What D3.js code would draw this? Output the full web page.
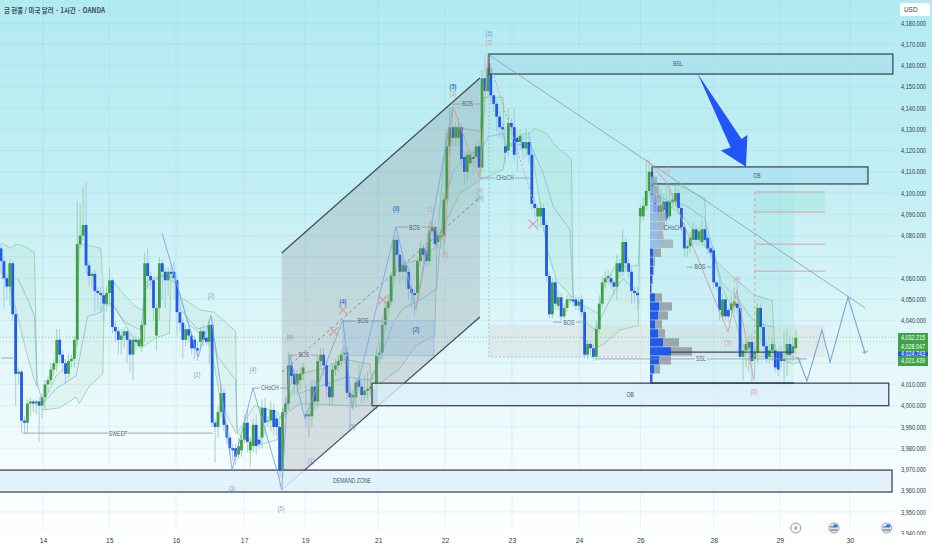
<!DOCTYPE html>
<html>
<head>
<meta charset="utf-8">
<style>
  html, body { margin: 0; padding: 0; background: #fff; }
  svg { display: block; }
  text { font-family: "Liberation Sans", Roboto, sans-serif; }
</style>
<script src="https://cdnjs.cloudflare.com/ajax/libs/d3/7.8.5/d3.min.js"></script>
</head>
<body>
<svg id="chart" width="932" height="550"></svg>
<script>
// candles, one hour each
var opens = [
  4074,4068,4060,4056,4067,4043,4015,4016,3993,3992, 4001,4002,4001,4002,4000,4004,4010,4012,4017,4020,
  4031,4024,4020,4015,4021,4022,4031,4076,4080,4085, 4066,4061,4062,4054,4053,4052,4048,4053,4059,4037,
  4035,4031,4033,4035,4031,4024,4031,4028,4028,4038, 4067,4061,4059,4033,4046,4067,4063,4059,4063,4063,
  4059,4044,4039,4031,4036,4033,4031,4027,4030,4035, 4032,4030,4038,3992,3990,3997,4006,3991,3985,3980,
  3980,3977,3979,3984,3992,3979,3981,3991,3984,3985, 3999,3993,3993,3998,3994,3990,3966,3997,4001,4019,
  4015,4010,4012,4015,3996,3995,3995,4009,4002,4021, 4024,4019,4009,4004,4017,4019,4021,4024,4025,4006,
  4004,4004,4012,4009,4005,4007,4008,4008,4000,4024, 4025,4038,4046,4049,4061,4078,4071,4063,4066,4063,
  4055,4053,4053,4068,4074,4073,4068,4082,4084,4077, 4079,4080,4097,4122,4131,4126,4126,4131,4117,4110,
  4114,4117,4117,4122,4112,4154,4148,4159,4146,4142, 4136,4131,4122,4120,4133,4131,4126,4124,4124,4121,
  4124,4118,4095,4089,4089,4093,4085,4061,4043,4058, 4047,4051,4042,4046,4050,4050,4050,4047,4050,4044,
  4024,4029,4027,4023,4036,4048,4058,4060,4060,4058, 4056,4067,4063,4077,4067,4063,4054,4053,4089,4089,
  4094,4101,4110,4099,4094,4091,4092,4096,4089,4096, 4096,4100,4093,4084,4074,4075,4078,4083,4078,4077,
  4083,4079,4074,4073,4058,4056,4042,4050,4045,4045, 4047,4048,4046,4023,4026,4027,4030,4022,4025,4046,
  4037,4028,4023,4026,4026,4025,4025,4021,4024,4029, 4025,4027
];
var closes = [
  4068,4060,4056,4067,4043,4015,4016,3993,3992,4001, 4002,4001,4002,4000,4004,4010,4012,4017,4020,4031,
  4024,4020,4015,4021,4022,4031,4076,4080,4085,4066, 4061,4062,4054,4053,4052,4048,4053,4059,4037,4035,
  4031,4033,4035,4031,4024,4031,4030,4031,4038,4067, 4061,4059,4046,4046,4067,4063,4059,4063,4062,4060,
  4044,4039,4031,4036,4033,4027,4027,4026,4035,4031, 4030,4038,3992,3990,3997,4006,3991,3985,3980,3979,
  3976,3981,3984,3992,3983,3983,3991,3981,3982,3999, 3992,3993,3998,3990,3990,3966,3997,4001,4019,4014,
  4010,4015,4015,4018,3995,3996,4009,4002,4021,4024, 4019,4009,4004,4017,4019,4021,4024,4025,4006,4004,
  4005,4011,4009,4005,4007,4008,4009,4000,4024,4025, 4038,4046,4049,4061,4078,4071,4063,4066,4063,4055,
  4053,4052,4068,4074,4071,4068,4082,4084,4076,4080, 4080,4097,4122,4131,4126,4131,4131,4116,4110,4118,
  4118,4116,4122,4112,4154,4148,4159,4146,4142,4136, 4131,4130,4119,4133,4131,4118,4124,4127,4121,4124,
  4118,4095,4093,4093,4093,4085,4061,4043,4058,4048, 4051,4042,4046,4050,4050,4049,4047,4049,4044,4024,
  4029,4027,4023,4036,4048,4058,4060,4061,4058,4056, 4067,4063,4077,4067,4063,4054,4053,4052,4093,4094,
  4101,4110,4099,4091,4091,4094,4096,4088,4096,4097, 4100,4093,4084,4074,4075,4079,4083,4078,4082,4083,
  4078,4074,4072,4058,4056,4045,4050,4042,4042,4048, 4049,4046,4023,4026,4029,4030,4021,4025,4046,4037,
  4028,4022,4026,4029,4018,4017,4021,4022,4029,4024, 4028,4032
];
var highs = [
  4076,4070,4062,4069,4068,4047,4018,4017,3995,4003, 4004,4003,4003,4004,4006,4012,4014,4020,4022,4036,
  4036,4026,4022,4024,4024,4033,4096,4095,4103,4105, 4068,4063,4064,4056,4056,4054,4056,4065,4060,4040,
  4037,4036,4037,4036,4034,4033,4033,4032,4040,4072, 4074,4063,4061,4048,4070,4069,4065,4065,4066,4068,
  4062,4046,4041,4038,4040,4035,4033,4030,4037,4038, 4034,4040,4041,3994,4000,4010,4008,3993,3987,3982,
  3982,3985,3986,3996,3998,3985,3994,3996,3986,4003, 4004,3995,4002,4001,3996,3992,3999,4004,4025,4024,
  4017,4017,4018,4020,4010,3999,4012,4012,4024,4027, 4027,4021,4011,4020,4022,4024,4026,4028,4028,4009,
  4008,4013,4020,4012,4014,4016,4012,4011,4027,4030, 4042,4049,4052,4063,4080,4080,4073,4069,4068,4065,
  4057,4055,4070,4077,4076,4075,4085,4088,4087,4082, 4083,4100,4128,4140,4133,4133,4136,4133,4120,4120,
  4120,4120,4124,4126,4158,4165,4166,4161,4148,4144, 4138,4133,4131,4140,4135,4140,4129,4130,4128,4131,
  4129,4120,4098,4094,4096,4095,4087,4063,4060,4060, 4054,4053,4048,4052,4052,4051,4052,4051,4052,4046,
  4031,4031,4029,4040,4052,4061,4063,4064,4062,4059, 4071,4069,4083,4079,4069,4065,4056,4056,4095,4098,
  4115,4116,4112,4101,4100,4102,4100,4104,4102,4100, 4103,4102,4095,4086,4078,4082,4086,4085,4084,4087,
  4085,4081,4075,4075,4059,4058,4053,4052,4047,4052, 4056,4058,4048,4029,4031,4033,4034,4028,4048,4048,
  4039,4030,4029,4032,4029,4027,4028,4035,4036,4033, 4032,4036
];
var lows = [
  4062,4046,4050,4047,4040,4000,4010,3987,3987,3987, 3995,3997,3996,3983,3994,3998,4006,4010,4014,4016,
  4020,4016,4010,4013,4018,4018,4028,4074,4078,4062, 4056,4055,4044,4045,4044,4040,4044,4048,4034,4030,
  4024,4024,4027,4020,4016,4012,4026,4027,4025,4030, 4055,4055,4040,4026,4040,4050,4046,4052,4058,4050,
  4033,4035,4022,4028,4030,4024,4022,4021,4026,4028, 4028,4020,3990,3973,3985,3994,3988,3982,3977,3974,
  3972,3975,3976,3982,3978,3971,3978,3977,3980,3980, 3986,3990,3988,3986,3986,3961,3961,3994,3998,4010,
  4005,4005,4008,4012,3990,3985,3990,3998,3999,4018, 4014,4004,4000,4000,4014,4016,4018,4020,4003,3990,
  3998,3999,4006,4001,4002,4003,4005,3998,3998,4022, 4022,4036,4044,4047,4059,4067,4057,4059,4056,4050,
  4046,4042,4048,4066,4068,4065,4066,4080,4073,4074, 4074,4071,4095,4118,4122,4122,4122,4112,4104,4106,
  4112,4108,4114,4108,4110,4144,4145,4142,4138,4129, 4126,4125,4114,4117,4125,4115,4110,4120,4116,4117,
  4114,4092,4088,4082,4084,4082,4058,4041,4041,4045, 4045,4040,4041,4044,4048,4047,4045,4045,4042,4022,
  4022,4024,4021,4022,4034,4046,4055,4057,4055,4052, 4050,4060,4061,4063,4060,4048,4048,4045,4086,4087,
  4092,4098,4096,4085,4088,4087,4088,4085,4087,4093, 4094,4090,4082,4070,4070,4072,4076,4075,4075,4075,
  4075,4071,4069,4055,4054,4040,4040,4040,4039,4043, 4044,4043,4022,4012,4018,4016,4010,4013,4020,4030,
  4023,4020,4020,4021,4016,4014,4018,4008,4014,4020, 4021,4024
];

// axis labels
var priceTicks = [4180,4170,4160,4150,4140,4130,4120,4110,4100,4090,4080,4060,4050,4040,4010,4000,3990,3980,3970,3960,3950,3940];
var gridPrices = [4180,4170,4160,4150,4140,4130,4120,4110,4100,4090,4080,4070,4060,4050,4040,4030,4020,4010,4000,3990,3980,3970,3960,3950];
var dayTicks = [14.3,36.9,59.7,82.9,103.7,128.6,151.4,174.2,197.1,218,243,265.5,289.5];
var dayLabels = ["14","15","16","17","19","21","22","23","24","26","28","29","30"];

// envelope pieces, [candle index, price]
var bandUppers = [
  [[0,4076.6],[3.4,4074],[5.1,4076],[8,4075],[11.4,4072],[12.3,4009]],
  [[14.2,4001],[18.8,4014],[25.6,4024],[26.7,4075.5],[28.4,4076],[34,4074],[35.2,4048]],
  [[35.2,4048],[38,4059],[40.3,4055],[45.5,4047],[48.3,4045],[49.4,4058],[54.5,4061.4],[59.1,4060],[61.4,4051],[68,4045],[72.7,4044],[80,4035],[80.5,3987]],
  [[80.5,3987],[86.4,4000],[94.3,3997],[95.1,3994],[101.9,4015],[109.9,4017.5],[116.7,4022],[125.8,4019.6],[126.4,4012],[129.2,4024.6],[133.2,4051],[134.9,4066],[142.3,4068.5],[148.5,4075],[151.9,4129.7],[155.3,4131],[163.3,4129],[164.4,4145],[171.2,4145],[171.8,4117]],
  [[172.4,4122],[178,4127.8],[180.3,4128],[182,4130.4],[186,4128],[189.4,4122],[194.5,4116],[195.1,4050.5]],
  [[197.4,4048],[203.6,4043.5],[205.4,4056],[209,4065],[217.3,4066],[217.9,4090]],
  [[221.8,4105.4],[226.9,4103.8],[231.5,4103.4],[240,4097.6],[240.6,4074],[244,4067.8],[250.8,4059],[257,4052],[263,4049.4],[263.9,4023]],
  [[264,4023],[268,4024],[273,4022]]
];
var bandLowers = [
  [[0,4060],[2.3,4059],[5.7,4042],[8.5,4026],[11.4,4012],[12.3,4009]],
  [[14.2,3998],[19.9,3999],[25.6,4004],[26.7,4001],[30,4009],[34.7,4015],[35.2,4048]],
  [[35.2,4048],[38.6,4046.5],[42,4039],[45.5,4031],[47.7,4027],[52.8,4032],[57.4,4034],[58,4059],[59.7,4057.5],[63.6,4038.7],[67,4034.8],[71.6,4027.7],[75,4001],[80.1,3987]],
  [[80.5,3987],[88,3981.5],[94.3,3984],[95.1,3994],[101.9,4001],[117.8,4000],[125.8,4000],[129.2,4010.5],[136,4017.5],[141.7,4028.5],[147.9,4033],[148.7,4078],[151.9,4087],[156.5,4100],[163.3,4106],[171.2,4111],[171.8,4117]],
  [[172.4,4122],[180.3,4126.5],[182.6,4106],[186,4074.8],[189.4,4059],[195.1,4050.5]],
  [[197.4,4032.5],[202.5,4027],[205.9,4029.3],[211,4035.6],[217.3,4037.7],[217.9,4090]],
  [[221.8,4105.4],[225.2,4096.8],[232.6,4089],[240.4,4074],[242.9,4073],[245.1,4057.6],[248.5,4048],[253.1,4027.8],[257.6,4023],[263.9,4023]],
  [[264,4023],[270,4019.5],[273,4021]]
];
var bandMids = [
  [[5.7,4060],[9.1,4050],[11.4,4042],[12.3,4011],[14.2,4001],[18.8,4008],[25.6,4014],[29.5,4042],[34.1,4044],[35.2,4048],[38,4048],[42,4039.5],[47.7,4035.5],[49.4,4056],[54.5,4061],[59,4061],[61.4,4045],[67,4036],[71.6,4038],[73.9,4023],[80,4012],[80.5,3988]],
  [[101.9,4005.8],[109.9,4009.7],[117.8,4013.6],[125.8,4012],[129.2,4021.5],[133.7,4038.7],[137.1,4045.8],[142.8,4049.7],[148.5,4055],[150.8,4093.6],[154.2,4110.8],[159.9,4118.7],[163.3,4119.5],[166.1,4126.5],[171.2,4128],[172.4,4122],[180.3,4123.4],[184.9,4109.3],[188.3,4093.6],[194,4082.6],[195.1,4050.5]],
  [[198.5,4040.3],[202.5,4035.6],[208.8,4052.9],[212.2,4060],[216.7,4052.9],[217.6,4048]],
  [[221.8,4100],[228.1,4096],[233.2,4094.4],[240,4088],[242.9,4073],[245.7,4057.6],[250.8,4051],[255.4,4042],[257.6,4038.8],[263.3,4037]]
];

// wave counts
var blueWave = [[54.9,4081.2],[58.6,4063.8],[67.2,4022.9],[71.6,4042.6],[78.8,3969.7],[85.9,4008.3],[94.8,3966],[95.7,3960.3],[98.5,4023.8],[103.6,3994],[116.6,4040.3],[119.7,3999],[134.7,4084],[141.5,4045],[154.1,4140.5]];
var redWave = [[141.5,4045],[146.3,4086.4],[151.4,4076.5],[154.1,4140.5],[163.3,4106.6],[166,4164]];
var redDash = [[166,4164],[181.4,4096.7]];
var redWave2 = [[220.2,4115.6],[227,4105],[247.9,4034.6],[250.9,4054.4],[256.7,4012]];
var projection = [[271.7,4022.9],[274.8,4011.6],[279.9,4035.6],[282.7,4020.5],[288.8,4051],[294.6,4024.8]];
var trendLine = [[166.4,4165],[294.6,4046]];
var channelDash = [[95.8,4015.8],[163.3,4098]];
var channel = [[95.7,4071.8],[163.3,4154.1],[163.3,4041.7],[95.7,3960.3]];
var arrowShape = [[237.6,4156],[252.5,4125.4],[254.5,4127.3],[254,4112.4],[245.4,4120],[248.8,4121.5]];

// zones: [from, to, top, bottom]
var bslZone = [166.4,304.1,4165.4,4156];
var obTop = [222,295.6,4112.3,4104.3];
var obBottom = [126.5,302.7,4010.6,4000];
var demandZone = [-2,303.8,3969.7,3959.4];
var grayZone = [166.4,281,4037.8,4022.9];
var channelBox = [116.6,147.6,4040,4023.6];
var profileRange = [222,270.4,4110,4009.7];
var targetTop = [257,281,4100.5,4091.1];
var targetBody = [257,270.4,4091.1,4022.9];
var targetLevels = [4100.5,4091.1,4076,4063.3];

// level lines with a label: [from, to, price, text]
var levelLines = [
  [98.5,108,4023.8,"BOS"],[116.6,130.2,4039.8,"BOS"],[134.7,147.3,4084,"BOS"],[154.1,164,4141.9,"BOS"],
  [163.3,180.4,4107.1,"CHoCH"],[188.2,199.1,4039.3,"BOS"],[7.5,72.3,3987.1,"SWEEP"],[85.9,97.5,4008.3,"CHoCH"],
  [233.9,242.8,4065.2,"BOS"],[225.7,232.5,4084,"CHoCH"],[202.5,274.8,4022,"SSL"]
];

// wave labels: [index, price, text]
var blueLabels = [
  [166.4,4174.8,"(5)"],[163.3,4097.7,"(A)"],[98.5,4032.3,"(a)"],[71.6,4051.6,"(2)"],[66.8,4014.4,"(1)"],
  [85.9,4017.2,"(4)"],[78.8,3960.8,"(3)"],[95.5,3951.4,"(5)"],[105.7,3974.4,"(1)"],[119.7,3990,"(3)"]
];
var blueBoldLabels = [[154.1,4149.9,"(5)"],[134.7,4092.5,"(3)"],[116.6,4048.8,"(4)"],[141.5,4035.6,"(2)"]];
var redLabels = [
  [166.4,4170.6,"(3)"],[154.1,4146.6,"(3)"],[163.3,4101.4,"(4)"],[146.6,4092,"(1)"],[151.4,4071.3,"(2)"],
  [227.1,4110.9,"(2)"],[223.3,4097.7,"(1)"],[225,4079.3,"(1)"],[251,4060,"(4)"],[247.9,4029.5,"(3)"],[256.7,4006.4,"(5)"]
];
var crossMarks = [[116.6,4045],[113.5,4035],[130.2,4049.7],[181.4,4085.4]];
var boxLabels = [[230.8,4160.7,"BSL"],[257.8,4108,"OB"],[214.5,4005.3,"OB"],[119.7,3964.6,"DEMAND ZONE"]];

// volume profile rows
var profileTop = 4107.7;
var profileStep = 4.22;
var profileUp = [3,4,7,8,7,7,9,10,3,3,3,2,1,5,9,8,5,8,13,21,9,4,2];
var profileDown = [4,5,4,6,10,8,4,13,8,2,1,1,1,7,13,10,7,7,16,21,12,6,1];

// last price tags
var priceTags = [[4032.215,"#3fa34a",10],[4028.047,"#3fa34a",10],[4024.743,"#2156ee",4.5],[4021.439,"#3fa34a",10]];
var tagOrder = [338,347,354,361];
var eventMarks = [[271,"flash"],[284,"flag"],[302,"flag"]];

var GREEN = "#3f9f45", BLUE = "#1f5ae8", DARK = "#3d4a5e";

var width = 932, height = 550;
var svg = d3.select("#chart");
var x = d3.scaleLinear().domain([0, 271]).range([1, 795.8]);
var y = d3.scaleLinear().domain([3950, 4180]).range([512, 23]);
var vol = d3.scaleLinear().domain([0, 60]).range([0, 60]);
var line = d3.line().x(function (d) { return x(d[0]); }).y(function (d) { return y(d[1]); });

// squeeze a label to the narrow look of the reference
function narrow(sel, k) {
  sel.each(function () {
    this.setAttribute("textLength", this.getComputedTextLength() * k);
    this.setAttribute("lengthAdjust", "spacingAndGlyphs");
  });
}

var defs = svg.append("defs");
var bg = defs.append("linearGradient").attr("id", "bg").attr("x1", 0).attr("y1", 0).attr("x2", 0).attr("y2", 1);
bg.append("stop").attr("offset", "0%").attr("stop-color", "#b2eaf1");
bg.append("stop").attr("offset", "35%").attr("stop-color", "#c3eff4");
bg.append("stop").attr("offset", "65%").attr("stop-color", "#e3f7fa");
bg.append("stop").attr("offset", "92%").attr("stop-color", "#fbfeff");
bg.append("stop").attr("offset", "100%").attr("stop-color", "#ffffff");
svg.append("rect").attr("width", width).attr("height", height).attr("fill", "url(#bg)");

// grid
var grid = svg.append("g");
grid.selectAll(".h").data(gridPrices).enter().append("line")
  .attr("x1", 0).attr("x2", 895)
  .attr("y1", function (d) { return y(d); }).attr("y2", function (d) { return y(d); })
  .attr("stroke", "#7fbccb").attr("stroke-opacity", 0.16);
grid.selectAll(".v").data(dayTicks).enter().append("line")
  .attr("y1", 0).attr("y2", 530)
  .attr("x1", function (d) { return x(d); }).attr("x2", function (d) { return x(d); })
  .attr("stroke", "#7fbccb").attr("stroke-opacity", 0.16);

function zone(g, z, fill, stroke, sw) {
  return g.append("rect")
    .attr("x", x(z[0])).attr("width", x(z[1]) - x(z[0]))
    .attr("y", y(z[2])).attr("height", y(z[3]) - y(z[2]))
    .attr("fill", fill).attr("stroke", stroke || "none").attr("stroke-width", sw || 1);
}

var under = svg.append("g");
zone(under, grayZone, "#d8d8d8", null).attr("fill-opacity", 0.42);
zone(under, profileRange, "#86d6e8", null).attr("fill-opacity", 0.15);
zone(under, targetTop, "#7fe3c8", null).attr("fill-opacity", 0.22);
zone(under, targetBody, "#8de8cc", null).attr("fill-opacity", 0.1);

// dotted edge of the gray zone
under.append("path").attr("d", line([[166.4, 4165], [166.4, 4022.9], [218, 4022.9]]))
  .attr("fill", "none").attr("stroke", "#8fc3ea").attr("stroke-width", 1).attr("stroke-dasharray", "2,2");

// last price dotted line
under.append("line").attr("x1", 0).attr("x2", 897).attr("y1", y(4032.2)).attr("y2", y(4032.2))
  .attr("stroke", "#74c98a").attr("stroke-dasharray", "1,2").attr("stroke-width", 0.8);

// envelopes
var bands = svg.append("g");
bandUppers.forEach(function (up, i) {
  var low = bandLowers[i];
  bands.append("path").attr("d", line(up.concat(low.slice().reverse())) + "Z")
    .attr("fill", "#63c27c").attr("fill-opacity", 0.075);
  [up, low].forEach(function (s) {
    bands.append("path").attr("d", line(s)).attr("fill", "none")
      .attr("stroke", "#7cc48f").attr("stroke-width", 0.8).attr("stroke-opacity", 0.8);
  });
});
bandMids.forEach(function (m) {
  bands.append("path").attr("d", line(m)).attr("fill", "none")
    .attr("stroke", "#7aa9e0").attr("stroke-width", 0.8).attr("stroke-opacity", 0.8);
});

// candles
var idx = d3.range(opens.length);
var candles = svg.append("g").selectAll("g").data(idx).enter().append("g");
candles.append("line")
  .attr("x1", function (i) { return x(i); }).attr("x2", function (i) { return x(i); })
  .attr("y1", function (i) { return y(highs[i]); }).attr("y2", function (i) { return y(lows[i]); })
  .attr("stroke", function (i) { return closes[i] >= opens[i] ? "#8fc99b" : "#9dbdee"; })
  .attr("stroke-width", 0.8);
candles.append("rect")
  .attr("x", function (i) { return x(i) - 1.4; }).attr("width", 2.8)
  .attr("y", function (i) { return y(Math.max(opens[i], closes[i])); })
  .attr("height", function (i) { return Math.max(1, Math.abs(y(opens[i]) - y(closes[i]))); })
  .attr("fill", function (i) { return closes[i] >= opens[i] ? GREEN : BLUE; });

// channel sits on top of the candles
var over = svg.append("g");
over.append("path").attr("d", line(channel) + "Z").attr("fill", "#7d8288").attr("fill-opacity", 0.24);
over.append("path").attr("d", line([channel[0], channel[1]])).attr("stroke", DARK).attr("stroke-width", 1.2).attr("fill", "none");
over.append("path").attr("d", line([channel[3], channel[2]])).attr("stroke", DARK).attr("stroke-width", 1.2).attr("fill", "none");
over.append("path").attr("d", line(channelDash)).attr("stroke", "#6d7480").attr("stroke-width", 0.8)
  .attr("stroke-dasharray", "3,3").attr("fill", "none");
zone(over, channelBox, "#8fb4e0", "#9cc0e6").attr("fill-opacity", 0.26);

// zones with dark frame
zone(over, bslZone, "#a8e0ef", DARK, 1.3).attr("fill-opacity", 0.7);
zone(over, obTop, "#a8e0ef", DARK, 1.3).attr("fill-opacity", 0.6);
zone(over, obBottom, "#dceffa", DARK, 1.3).attr("fill-opacity", 0.8);
zone(over, demandZone, "#e0f1fa", DARK, 1.3).attr("fill-opacity", 0.85);

// volume profile
var rows = d3.range(profileUp.length);
var baseX = x(221.3);
var rowH = Math.abs(y(0) - y(profileStep)) - 0.6;
over.selectAll(".pu").data(rows).enter().append("rect")
  .attr("x", baseX).attr("height", rowH)
  .attr("y", function (i) { return y(profileTop - i * profileStep); })
  .attr("width", function (i) { return vol(profileUp[i]); })
  .attr("fill", function (i) { return i < 8 ? "#8db4e2" : BLUE; })
  .attr("fill-opacity", function (i) { return i < 8 ? 0.85 : 1; });
over.selectAll(".pd").data(rows).enter().append("rect")
  .attr("height", rowH)
  .attr("y", function (i) { return y(profileTop - i * profileStep); })
  .attr("x", function (i) { return baseX + vol(profileUp[i]); })
  .attr("width", function (i) { return vol(profileDown[i]); })
  .attr("fill", "#8f959e").attr("fill-opacity", function (i) { return i < 8 ? 0.6 : 0.8; });

// target levels
over.selectAll(".lvl").data(targetLevels).enter().append("line")
  .attr("x1", x(257)).attr("x2", x(281))
  .attr("y1", function (d) { return y(d); }).attr("y2", function (d) { return y(d); })
  .attr("stroke", "#dba0a4").attr("stroke-width", 1);
over.append("line").attr("x1", x(257)).attr("x2", x(257)).attr("y1", y(4100.5)).attr("y2", y(4022.9))
  .attr("stroke", "#dba0a4").attr("stroke-dasharray", "3,3");

// dark levels by the profile
over.append("line").attr("x1", x(227.4)).attr("x2", x(270.4)).attr("y1", y(4025.2)).attr("y2", y(4025.2))
  .attr("stroke", DARK).attr("stroke-width", 1.2);
over.append("line").attr("x1", x(221.3)).attr("x2", x(270.4)).attr("y1", y(4010.6)).attr("y2", y(4010.6))
  .attr("stroke", DARK).attr("stroke-width", 1.8);
over.append("line").attr("x1", x(0)).attr("x2", x(5)).attr("y1", y(4022.4)).attr("y2", y(4022.4))
  .attr("stroke", "#8e969f").attr("stroke-width", 0.8);

// wave lines
function wave(pts, color, w, dash) {
  over.append("path").attr("d", line(pts)).attr("fill", "none")
    .attr("stroke", color).attr("stroke-width", w).attr("stroke-dasharray", dash || null);
}
wave(trendLine, "#8f9aa3", 0.8);
wave(blueWave, "#7ba8dc", 0.9);
wave(redWave, "#d89a98", 0.9);
wave(redDash, "#d89a98", 1, "2,2");
wave(redWave2, "#d89a98", 0.9);
wave(projection, "#74a9dc", 1.1);

// projection arrow head
var tip = projection[projection.length - 1];
over.append("path")
  .attr("d", "M" + (x(tip[0]) - 2.6) + "," + (y(tip[1]) - 1.2) + "L" + x(tip[0]) + "," + y(tip[1]) + "L" + (x(tip[0]) + 2.4) + "," + (y(tip[1]) - 2.4))
  .attr("fill", "none").attr("stroke", "#74a9dc").attr("stroke-width", 1.1);

over.append("path").attr("d", line(arrowShape) + "Z").attr("fill", "#2255f5");

// crosses
var crossG = over.selectAll(".cross").data(crossMarks).enter().append("g")
  .attr("transform", function (d) { return "translate(" + x(d[0]) + "," + y(d[1]) + ")"; });
crossG.append("path").attr("d", "M-4.5,-4.5L4.5,4.5M-4.5,4.5L4.5,-4.5")
  .attr("stroke", "#d3a0a0").attr("stroke-width", 1.3);

// level lines, split around the label
var GAP = { "BOS": 7, "CHoCH": 10, "SWEEP": 10, "SSL": 6 };
levelLines.forEach(function (d) {
  var x0 = x(d[0]), x1 = x(d[1]), mid = (x0 + x1) / 2, yy = y(d[2]), gap = GAP[d[3]];
  if (mid - gap > x0) {
    over.append("line").attr("x1", x0).attr("x2", mid - gap).attr("y1", yy).attr("y2", yy)
      .attr("stroke", "#8e969f").attr("stroke-width", 0.8);
    over.append("line").attr("x1", mid + gap).attr("x2", x1).attr("y1", yy).attr("y2", yy)
      .attr("stroke", "#8e969f").attr("stroke-width", 0.8);
  }
  over.append("text").attr("x", mid).attr("y", yy + 2.4).attr("text-anchor", "middle")
    .attr("font-size", 6.6).attr("fill", "#555e6e").text(d[3]).call(narrow, 0.78);
});

function labels(data, color, weight, k) {
  over.selectAll(".l").data(data, function (d) { return d; }).enter().append("text")
    .attr("x", function (d) { return x(d[0]); })
    .attr("y", function (d) { return y(d[1]) + 2.4; })
    .attr("text-anchor", "middle").attr("font-size", 6.6)
    .attr("font-weight", weight || "normal").attr("fill", color)
    .text(function (d) { return d[2]; }).call(narrow, k);
}
labels(blueLabels, "#6f9fd2", null, 0.85);
labels(blueBoldLabels, "#3a78c8", "bold", 0.85);
labels(redLabels, "#cf9a98", null, 0.85);
labels(boxLabels, "#4a5564", null, 0.78);

// axes
var yAxis = d3.axisRight(y).tickValues(priceTicks).tickSize(0).tickPadding(0).tickFormat(d3.format(",.3f"));
var yg = svg.append("g").attr("transform", "translate(901,0)").call(yAxis);
yg.select(".domain").remove();
yg.selectAll("text").attr("font-size", 6.6).attr("fill", "#333c48").attr("textLength", 25)
  .attr("lengthAdjust", "spacingAndGlyphs").style("font-family", "Liberation Sans");

var xAxis = d3.axisBottom(x).tickValues(dayTicks).tickSize(0).tickPadding(0)
  .tickFormat(function (d, i) { return dayLabels[i]; });
var xg = svg.append("g").attr("transform", "translate(0,538.5)").call(xAxis);
xg.select(".domain").remove();
xg.selectAll("text").attr("font-size", 6.8).attr("fill", "#333c48");

// white strip over the clipped tick at the bottom
svg.append("rect").attr("x", 895).attr("y", 535).attr("width", 37).attr("height", 15).attr("fill", "#fff");

// USD chip
svg.append("rect").attr("x", 900).attr("y", 3).attr("width", 30).attr("height", 13).attr("rx", 2).attr("fill", "#fff");
svg.append("text").attr("x", 904).attr("y", 12).attr("font-size", 6.4).attr("fill", "#333c48").text("USD");

// price tags
svg.append("rect").attr("x", 898).attr("y", 334).attr("width", 30).attr("height", 32).attr("fill", GREEN);
var tagG = svg.selectAll(".tag").data(priceTags).enter().append("g");
tagG.append("rect").attr("x", 898).attr("width", 30)
  .attr("y", function (d, i) { return tagOrder[i] - d[2] / 2; })
  .attr("height", function (d) { return d[2]; })
  .attr("fill", function (d) { return d[1]; });
tagG.append("text").attr("x", 901).attr("y", function (d, i) { return tagOrder[i] + 2.3; })
  .attr("font-size", 6.4).attr("fill", "#fff").attr("textLength", 24).attr("lengthAdjust", "spacingAndGlyphs")
  .text(function (d) { return d3.format(",.3f")(d[0]); });

// title
svg.append("text").attr("x", 4).attr("y", 13).attr("font-size", 7.2).attr("font-weight", "bold")
  .attr("fill", "#3d4c58").attr("textLength", 101).attr("lengthAdjust", "spacingAndGlyphs")
  .style("font-family", "'Noto Sans CJK KR'")
  .text("금 현물 / 미국 달러 · 1시간 · OANDA");

// event marks near the time axis
var ev = svg.selectAll(".ev").data(eventMarks).enter().append("g")
  .attr("transform", function (d) { return "translate(" + x(d[0]) + ",528)"; });
ev.append("circle").attr("r", 5).attr("fill", "#f4f6f8").attr("stroke", "#8d949c").attr("stroke-width", 0.9);
ev.filter(function (d) { return d[1] === "flash"; }).append("path")
  .attr("d", "M1,-3L-1.6,0.6H0L-1,3L1.6,-0.6H0Z").attr("fill", "#6b737c");
ev.filter(function (d) { return d[1] === "flag"; }).append("path")
  .attr("d", "M-3.6,-0.4H3.6V-3.4H-0.5V-1.8H-3.6Z").attr("fill", "#2a6fdc");
ev.filter(function (d) { return d[1] === "flag"; }).append("path")
  .attr("d", "M-3.6,0.8H3.6V3.2H-3.6Z").attr("fill", "#a89ca4");
</script>
</body>
</html>
